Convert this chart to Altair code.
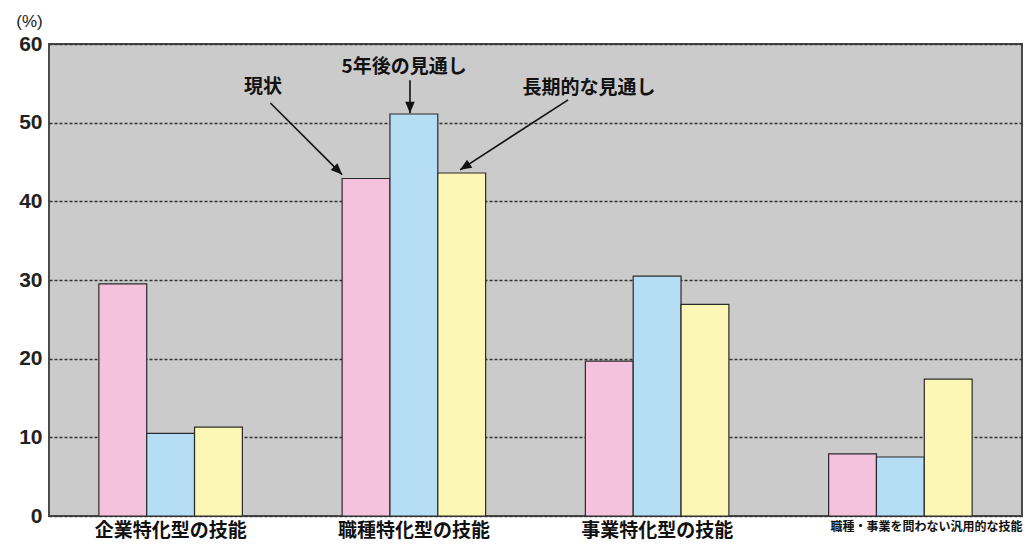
import altair as alt
import pandas as pd

categories = ["企業特化型の技能", "職種特化型の技能", "事業特化型の技能", "職種・事業を問わない汎用的な技能"]
series = ["現状", "5年後の見通し", "長期的な見通し"]
current = [29.5, 42.9, 19.7, 7.9]
five_year = [10.5, 51.1, 30.5, 7.5]
long_term = [11.3, 43.6, 26.9, 17.4]
colors = ["#f5c2de", "#b5def5", "#fdf7b6"]
y_ticks = [0, 10, 20, 30, 40, 50, 60]

# annotations (x in category-index units, category i centred at i + 0.5)
ann_text = ["現状", "5年後の見通し", "長期的な見通し"]
ann_tx = [0.88, 1.46, 2.22]
ann_ty = [54.5, 57.1, 54.4]
arrow_x1 = [0.91, 1.484, 2.134]
arrow_y1 = [52.5, 55.4, 52.9]
arrow_x2 = [1.205, 1.484, 1.690]
arrow_y2 = [43.4, 51.2, 44.0]
arrow_angle = [135, 180, 237]

rows = []
for s, vals in zip(series, [current, five_year, long_term]):
    for c, v in zip(categories, vals):
        rows.append({"category": c, "series": s, "value": v})
df = pd.DataFrame(rows)

ann = pd.DataFrame({"text": ann_text, "tx": ann_tx, "ty": ann_ty})
arr = pd.DataFrame({"x1": arrow_x1, "y1": arrow_y1, "x2": arrow_x2, "y2": arrow_y2,
                    "ang": arrow_angle})

JP = "Noto Sans CJK JP"
yscale = alt.Scale(domain=[0, 60], nice=False, zero=True)
xq = alt.Scale(domain=[0, 4], nice=False, zero=False)

yaxis = alt.Axis(values=y_ticks, title="(%)")
long_label_test = "datum.value == '職種・事業を問わない汎用的な技能'"

bars = alt.Chart(df).mark_bar(stroke="#2a2a2a", strokeWidth=1.2).encode(
    x=alt.X("category:N", sort=categories, title=None,
            scale=alt.Scale(paddingInner=0.41, paddingOuter=0.205),
            axis=alt.Axis(labelAngle=0, labelFont=JP, labelFontWeight="bold",
                          labelColor="#111", labelPadding=5, ticks=False, domain=False,
                          labelLimit=400,
                          labelOffset={"condition": {"test": long_label_test, "value": 26},
                                       "value": 0},
                          labelFontSize={"condition": {"test": long_label_test, "value": 12},
                                         "value": 19})),
    xOffset=alt.XOffset("series:N", sort=series),
    y=alt.Y("value:Q", scale=yscale, axis=yaxis),
    color=alt.Color("series:N", sort=series,
                    scale=alt.Scale(domain=series, range=colors), legend=None),
)

lines = alt.Chart(arr).mark_rule(color="#111", strokeWidth=1.6).encode(
    x=alt.X("x1:Q", scale=xq, axis=None),
    x2="x2:Q",
    y=alt.Y("y1:Q", scale=yscale, axis=yaxis),
    y2="y2:Q",
)

heads = alt.Chart(arr).mark_point(
    shape="M0,0L-0.42,1L0.42,1Z", filled=True, color="#111", size=520, opacity=1
).encode(
    x=alt.X("x2:Q", scale=xq, axis=None),
    y=alt.Y("y2:Q", scale=yscale, axis=yaxis),
    angle=alt.Angle("ang:Q", scale=None),
)

texts = alt.Chart(ann).mark_text(
    font=JP, fontSize=19, fontWeight="bold", color="#111", baseline="middle"
).encode(
    x=alt.X("tx:Q", scale=xq, axis=None),
    y=alt.Y("ty:Q", scale=yscale, axis=yaxis),
    text="text:N",
)

chart = alt.layer(bars, lines, heads, texts).resolve_scale(x="independent").properties(
    width=973, height=472,
    padding={"left": 49, "top": 44, "right": 3, "bottom": 30},
    autosize=alt.AutoSizeParams(type="none"),
).configure_view(
    fill="#cbcbcb", stroke="#4a4a4a", strokeWidth=2
).configure_axisY(
    grid=True, gridColor="#333333", gridDash=[3, 2], gridWidth=1.4,
    ticks=False, domain=False,
    labelFont="Liberation Sans", labelFontSize=21, labelFontWeight="bold",
    labelColor="#222", labelPadding=7,
    titleAngle=0, titleFont="Liberation Sans", titleFontSize=17,
    titleFontWeight="normal", titleColor="#222", titleAlign="center",
    titleBaseline="middle", titleX=-20, titleY=-23,
)

chart.save("out.html", embed_options={"renderer": "svg", "actions": False})
